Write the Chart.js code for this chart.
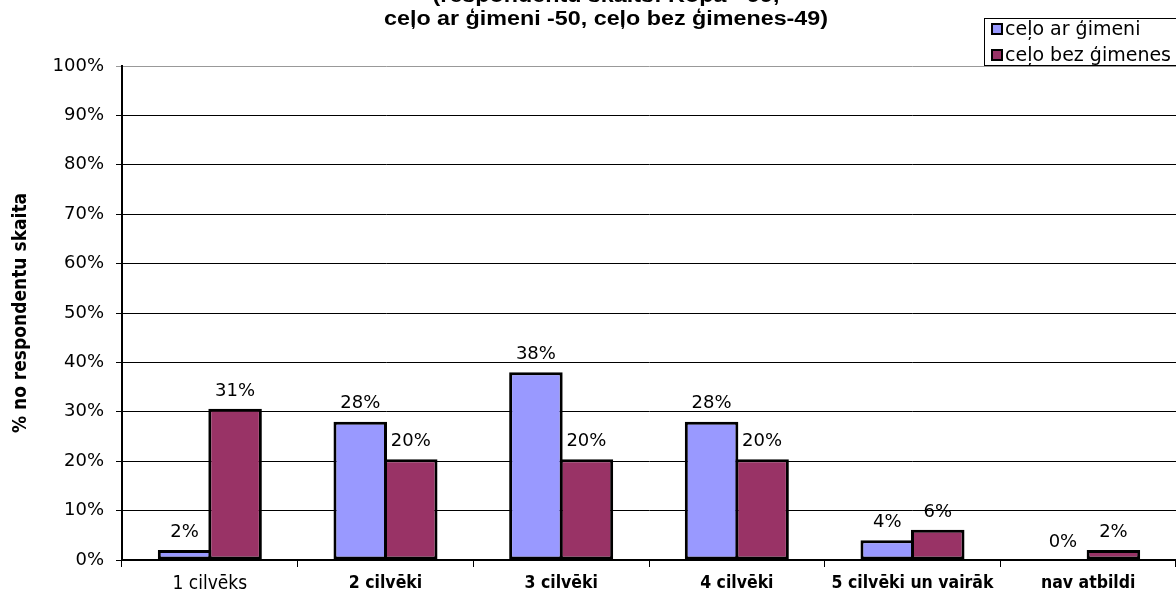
<!DOCTYPE html>
<html>
<head>
<meta charset="utf-8">
<script src="https://cdn.jsdelivr.net/npm/chart.js@4/dist/chart.umd.min.js"></script>
<style>
  body { margin: 0; background: #fff; }
  canvas { display: block; }
</style>
</head>
<body>
<canvas id="chartTravel" width="1176" height="594"></canvas>
<script>
// dati
var categories = ['1 cilvēks', '2 cilvēki', '3 cilvēki', '4 cilvēki', '5 cilvēki un vairāk', 'nav atbildi'];
var arGimeni = [2, 28, 38, 28, 4, 0];
var bezGimenes = [30.6, 20.4, 20.4, 20.4, 6.1, 2.0];
var seriesNames = ['ceļo ar ģimeni', 'ceļo bez ģimenes'];
var seriesColors = ['#9999FF', '#993366'];
var titleLines = ['(respondentu skaits: Kopā - 99,', 'ceļo ar ģimeni -50, ceļo bez ģimenes-49)'];
var yTitle = '% no respondentu skaita';
var yMin = 0, yMax = 100, yStep = 10;

var narrow = "'Liberation Sans Narrow', 'DejaVu Sans Condensed', sans-serif";
var verdana = "'DejaVu Sans', Verdana, sans-serif";

// virsraksts, vērtības virs stabiņiem un leģenda
var extras = {
	id: 'extras',
	afterDatasetsDraw: function(chart) {
		var ctx = chart.ctx;
		ctx.save();
		ctx.fillStyle = '#000';
		ctx.font = '18px ' + verdana;
		ctx.textAlign = 'center';
		ctx.textBaseline = 'middle';
		chart.data.datasets.forEach(function(ds, i) {
			var meta = chart.getDatasetMeta(i);
			meta.data.forEach(function(bar, j) {
				ctx.fillText(Math.round(ds.data[j]) + '%', bar.x, bar.y - 18);
			});
		});
		ctx.restore();
	},
	afterDraw: function(chart) {
		var ctx = chart.ctx;
		ctx.save();
		ctx.fillStyle = '#000';
		ctx.font = 'bold 20px "Liberation Sans", Arial, sans-serif';
		ctx.textAlign = 'center';
		ctx.textBaseline = 'alphabetic';
		// virsraksts nedaudz izstiepts, kā oriģinālā
		var w = ctx.measureText(titleLines[1]).width;
		var sx = 444 / w;
		ctx.save();
		ctx.translate(606, 0);
		ctx.scale(sx, 1);
		ctx.fillText(titleLines[0], 0, 2);
		ctx.fillText(titleLines[1], 0, 25);
		ctx.restore();

		// leģenda
		ctx.fillStyle = '#fff';
		ctx.fillRect(984, 18, 200, 47);
		ctx.strokeStyle = '#000';
		ctx.lineWidth = 1;
		ctx.strokeRect(984.5, 18.5, 200, 47);
		ctx.font = '19px ' + verdana;
		ctx.textAlign = 'left';
		ctx.textBaseline = 'middle';
		var rows = [29, 55];
		for (var i = 0; i < seriesNames.length; i++) {
			ctx.fillStyle = seriesColors[i];
			ctx.fillRect(992, rows[i] - 5, 10, 10);
			ctx.lineWidth = 2;
			ctx.strokeRect(992, rows[i] - 5, 10, 10);
			ctx.fillStyle = '#000';
			ctx.fillText(seriesNames[i], 1005, rows[i] + 1);
		}
		ctx.restore();
	}
};

var ctx = document.getElementById('chartTravel').getContext('2d');
var chart = new Chart(ctx, {
	type: 'bar',
	data: {
		labels: categories,
		datasets: [
			{ label: seriesNames[0], data: arGimeni, backgroundColor: seriesColors[0], borderColor: '#000', borderWidth: 3, borderSkipped: false, categoryPercentage: 0.575, barPercentage: 1.06 },
			{ label: seriesNames[1], data: bezGimenes, backgroundColor: seriesColors[1], borderColor: '#000', borderWidth: 3, borderSkipped: false, categoryPercentage: 0.575, barPercentage: 1.06 }
		]
	},
	options: {
		responsive: false,
		animation: false,
		layout: { padding: { top: 66, left: 0, right: -7, bottom: 0 } },
		plugins: {
			legend: { display: false },
			title: { display: false },
			tooltip: { enabled: false }
		},
		scales: {
			x: {
				grid: { drawOnChartArea: false, offset: true, tickLength: 7, color: '#000', lineWidth: 1 },
				border: { color: '#000', width: 2 },
				ticks: {
					color: '#000',
					padding: 6,
					font: function(c) {
						return c.index === 0
							? { family: narrow, size: 19, weight: 'normal' }
							: { family: narrow, size: 17.5, weight: 'bold' };
					}
				},
				afterFit: function(s) { s.height = 34; }
			},
			y: {
				min: yMin,
				max: yMax,
				ticks: {
					stepSize: yStep,
					color: '#000',
					padding: 12,
					font: { family: verdana, size: 18 },
					callback: function(v) { return v + '%'; }
				},
				grid: {
					color: function(c) { return c.tick && c.tick.value === yMax ? '#999' : '#000'; },
					lineWidth: 1,
					tickLength: 6
				},
				border: { color: '#000', width: 2 },
				title: {
					display: true,
					text: yTitle,
					color: '#000',
					font: { family: narrow, size: 19, weight: 'bold' },
					padding: { top: 10, bottom: 0 }
				},
				afterFit: function(s) { s.width = 122; }
			}
		}
	},
	plugins: [extras]
});
</script>
</body>
</html>
